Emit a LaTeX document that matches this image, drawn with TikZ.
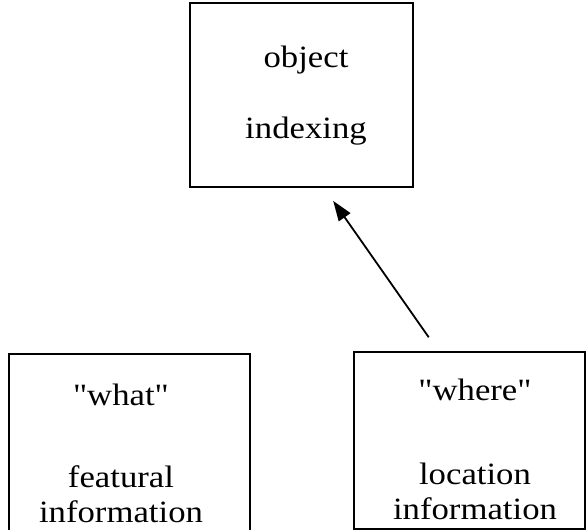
\documentclass[tikz,border=0pt]{standalone}
\usepackage{fontspec}
\setmainfont{Liberation Serif}[Ligatures=TeXOff,FakeStretch=1.12]
\usetikzlibrary{arrows.meta,positioning}

\begin{document}
\begin{tikzpicture}[x=1pt,y=-1pt,>={Triangle[length=20pt,width=14pt]},
box/.style={draw, line width=1.6pt, inner sep=0pt},
lbl/.style={align=center, inner sep=0pt, font=\fontsize{31}{35}\selectfont}]
\useasboundingbox (0,0) rectangle (587,530);
\clip (0,0) rectangle (587,530);
% the three boxes
\node[box, minimum width=223pt, minimum height=184pt] (objbox) at (301.5,95) {};
\node[box, minimum width=241pt, minimum height=200pt] (whatbox) at (129.5,454) {};
\node[box, minimum width=231pt, minimum height=177pt] (wherebox) at (469.5,440.5) {};
% texts
\node[lbl, anchor=base] (objtxt) at (306,138) {object\\[36pt]indexing};
\node[lbl, anchor=base] (whattxt) at (121,522) {"what"\\[47pt]featural\\information};
\node[lbl, anchor=base] (wheretxt) at (475,519) {"where"\\[49pt]location\\information};
% arrow
\draw[->, line width=1.8pt, shorten <=17pt, shorten >=16pt]
  ([xshift=-31pt]wherebox.north) -- ([xshift=22.5pt]objbox.south);
\end{tikzpicture}
\end{document}
